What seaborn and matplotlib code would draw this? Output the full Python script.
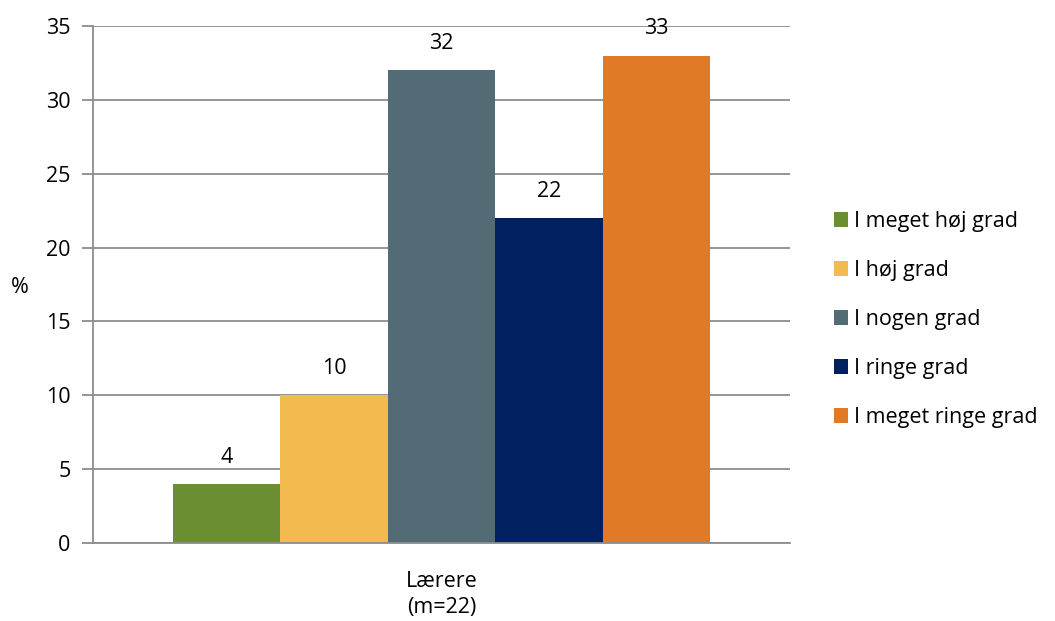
import pandas as pd
import matplotlib.pyplot as plt
import seaborn as sns

sns.set_style("white")
plt.rcParams['font.family'] = ['Open Sans', 'DejaVu Sans']
plt.rcParams['text.color'] = 'black'
plt.rcParams['xtick.labelcolor'] = 'black'
plt.rcParams['ytick.labelcolor'] = 'black'

categories = ['I meget høj grad', 'I høj grad', 'I nogen grad', 'I ringe grad', 'I meget ringe grad']
values = [4, 10, 32, 22, 33]
group = 'Lærere\n(m=22)'
colors = ['#6B8E33', '#F3BA50', '#536B75', '#002060', '#E07A27']
GRID = '#8C8C8C'
FS = 15.5

df = pd.DataFrame({'group': [group] * len(categories), 'svar': categories, 'pct': values})

fig = plt.figure(figsize=(10.55, 6.21), dpi=100)
ax = fig.add_axes([0.088, 0.1256, 0.661, 0.8326])
sns.barplot(data=df, x='group', y='pct', hue='svar', hue_order=categories,
            palette=colors, width=0.77, saturation=1, linewidth=0, ax=ax, legend=True)

ax.set_ylim(0, 35)
ax.set_xlim(-0.5, 0.5)
ax.set_yticks(range(0, 36, 5))
ax.yaxis.grid(True, color=GRID, lw=1.3)
ax.set_axisbelow(True)
for s in ['top', 'right']:
    ax.spines[s].set_visible(False)
for s in ['left', 'bottom']:
    ax.spines[s].set_color(GRID)
    ax.spines[s].set_linewidth(1.3)
ax.tick_params(axis='y', length=8, color=GRID, width=1.3, labelsize=FS, pad=8, left=True,
               labelcolor='black')
ax.tick_params(axis='x', length=0, labelsize=FS, pad=20, labelcolor='black')
plt.setp(ax.get_xticklabels(), linespacing=1.3)
ax.set_xlabel('')
ax.set_ylabel('')
fig.text(20 / 1055, 1 - 287 / 621, '%', ha='center', va='center', fontsize=FS, color='black')

for cont in ax.containers:
    for bar in cont:
        ax.text(bar.get_x() + bar.get_width() / 2, bar.get_height() + 1.1,
                f'{bar.get_height():.0f}', ha='center', va='bottom', fontsize=FS, color='black')

handles, labels = ax.get_legend_handles_labels()
ax.legend(handles, labels, loc='center left', bbox_to_anchor=(1.035, 0.432),
          frameon=False, fontsize=FS, handlelength=0.65, handleheight=0.65,
          handletextpad=0.3, labelspacing=1.3, labelcolor='black')

plt.savefig('out.png', dpi=100)
plt.close()
